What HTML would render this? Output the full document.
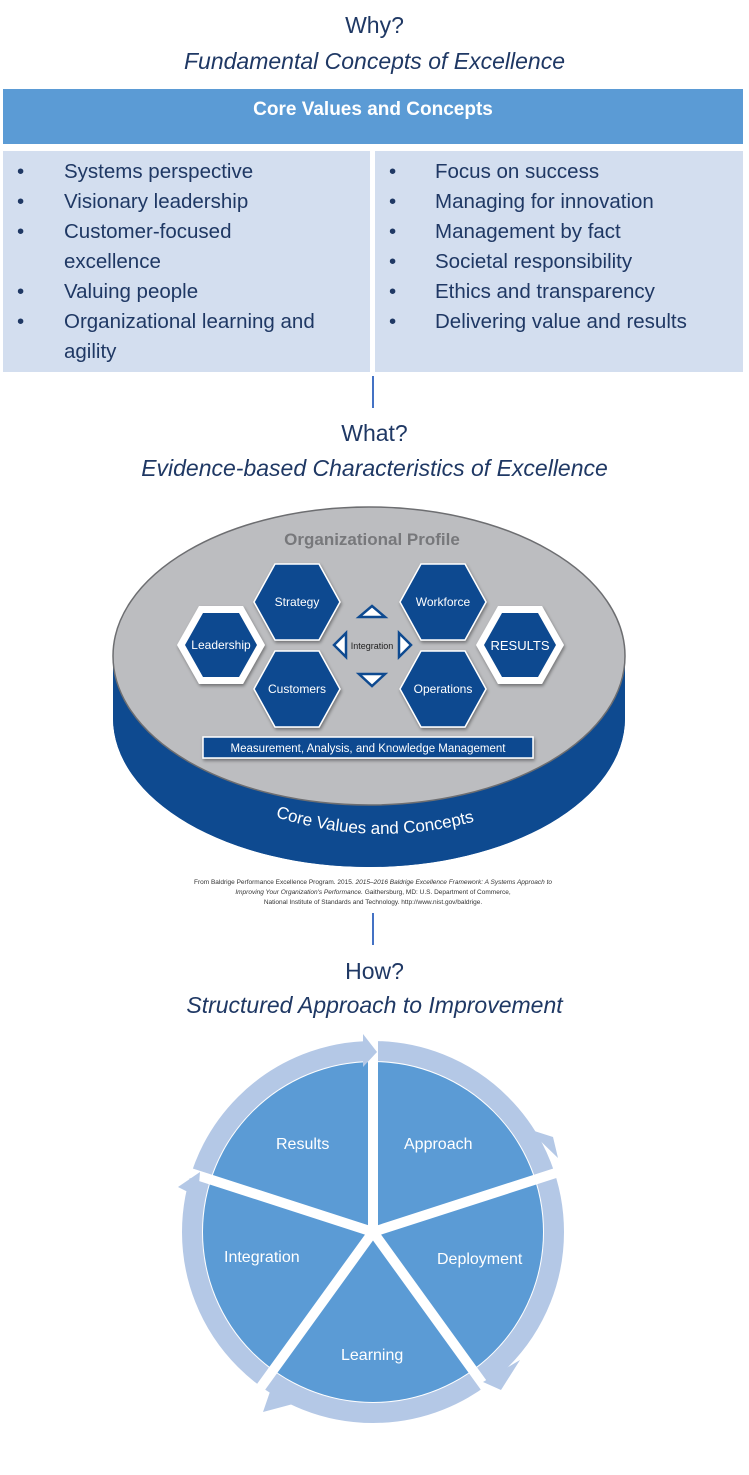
<!DOCTYPE html>
<html><head><meta charset="utf-8"><style>
body{margin:0;width:749px;height:1475px;background:#fff;position:relative;font-family:"Liberation Sans",sans-serif;overflow:hidden}
.t{position:absolute;left:0;width:749px;text-align:center;color:#1F3864;font-size:23px}
.i{font-style:italic}
.hdr{position:absolute;left:3px;top:89px;width:740px;height:55px;background:#5B9BD5;color:#fff;font-weight:bold;font-size:19px;text-align:center;line-height:42px}
.col{position:absolute;top:151px;height:221px;background:#D3DEEF;color:#1F3864;font-size:20.5px;line-height:30px}
.col div{position:relative;padding-left:0}
.b{position:absolute}
.ln{position:absolute;left:372px;width:2px;background:#4472C4}
</style></head><body>
<div class="t" style="top:12px">Why?</div>
<div class="t i" style="top:48px">Fundamental Concepts of Excellence</div>
<div class="hdr">Core Values and Concepts</div>
<div class="col" style="left:3px;width:367px">
 <div style="position:absolute;left:14px;top:6px;line-height:30px">•<br>•<br>•<br><br>•<br>•</div>
 <div style="position:absolute;left:61px;top:6px;width:300px">Systems perspective<br>Visionary leadership<br>Customer-focused<br>excellence<br>Valuing people<br>Organizational learning and<br>agility</div>
</div>
<div class="col" style="left:375px;width:368px">
 <div style="position:absolute;left:14px;top:6px">•<br>•<br>•<br>•<br>•<br>•</div>
 <div style="position:absolute;left:60px;top:6px;width:305px">Focus on success<br>Managing for innovation<br>Management by fact<br>Societal responsibility<br>Ethics and transparency<br>Delivering value and results</div>
</div>
<div class="ln" style="top:376px;height:32px"></div>
<div class="t" style="top:420px">What?</div>
<div class="t i" style="top:455px">Evidence-based Characteristics of Excellence</div>

<svg style="position:absolute;left:0;top:0" width="749" height="1475">
 <defs><filter id="sh"><feDropShadow dx="1" dy="2" stdDeviation="1.5" flood-opacity="0.4"/></filter></defs>
 <!-- cylinder -->
 <path d="M113,656 L113,718 A256,149 0 0 0 625,718 L625,656 Z" fill="#0E4A90"/>
 <ellipse cx="369" cy="718" rx="256" ry="149" fill="#0E4A90"/>
 <ellipse cx="369" cy="656" rx="256" ry="149" fill="#BCBDC0" stroke="#6d6e71" stroke-width="1.5"/>
 <text x="372" y="545" text-anchor="middle" font-size="17" font-weight="bold" fill="#77787b">Organizational Profile</text>
 <g filter="url(#sh)">
  <polygon points="177,645 199,606 243,606 265,645 243,684 199,684" fill="#fff"/>
  <polygon points="185,645 203,613 239,613 257,645 239,677 203,677" fill="#0E4A90"/>
  <polygon points="476,645 498,606 542,606 564,645 542,684 498,684" fill="#fff"/>
  <polygon points="484,645 502,613 538,613 556,645 538,677 502,677" fill="#0E4A90"/>
  <polygon points="254,602 275,564 319,564 340,602 319,640 275,640" fill="#0E4A90" stroke="#fff" stroke-width="1.5"/>
  <polygon points="254,689 275,651 319,651 340,689 319,727 275,727" fill="#0E4A90" stroke="#fff" stroke-width="1.5"/>
  <polygon points="400,602 421,564 465,564 486,602 465,640 421,640" fill="#0E4A90" stroke="#fff" stroke-width="1.5"/>
  <polygon points="400,689 421,651 465,651 486,689 465,727 421,727" fill="#0E4A90" stroke="#fff" stroke-width="1.5"/>
  <rect x="203" y="737" width="330" height="21" fill="#0E4A90" stroke="#fff" stroke-width="1.5"/>
 </g>
 <g fill="#fff" font-size="12" text-anchor="middle">
  <text x="221" y="649">Leadership</text>
  <text x="520" y="650" font-size="13">RESULTS</text>
  <text x="297" y="606">Strategy</text>
  <text x="297" y="693">Customers</text>
  <text x="443" y="606">Workforce</text>
  <text x="443" y="693">Operations</text>
  <text x="368" y="752" font-size="11.5">Measurement, Analysis, and Knowledge Management</text>
 </g>
 <text x="372" y="649" text-anchor="middle" font-size="9" fill="#222">Integration</text>
 <g fill="#fff" stroke="#0E4A90" stroke-width="2.5">
  <polygon points="372,606 385,617 359,617"/>
  <polygon points="359,674 385,674 372,686"/>
  <polygon points="346,633 346,657 334,645"/>
  <polygon points="399,633 399,657 411,645"/>
 </g>
 <path id="arc" d="M270,815 Q372,850 480,820" fill="none"/>
 <text font-size="17" fill="#fff"><textPath href="#arc" startOffset="50%" text-anchor="middle">Core Values and Concepts</textPath></text>
 <g font-size="6.5" fill="#333" text-anchor="middle">
  <text x="373" y="884">From Baldrige Performance Excellence Program. 2015. <tspan font-style="italic">2015–2016 Baldrige Excellence Framework: A Systems Approach to</tspan></text>
  <text x="373" y="894"><tspan font-style="italic">Improving Your Organization's Performance.</tspan> Gaithersburg, MD: U.S. Department of Commerce,</text>
  <text x="373" y="904">National Institute of Standards and Technology. http://www.nist.gov/baldrige.</text>
 </g>

 <!-- cycle -->
 <g transform="translate(373,1232)">
  <circle r="181" fill="none" stroke="#B4C8E6" stroke-width="20"/>
  <circle r="170" fill="#5B9BD5"/>
  <g stroke="#fff" stroke-width="10">
   <line x1="0" y1="0" x2="0" y2="-205"/>
   <line x1="0" y1="0" x2="195" y2="-63"/>
   <line x1="0" y1="0" x2="120" y2="166"/>
   <line x1="0" y1="0" x2="-120" y2="166"/>
   <line x1="0" y1="0" x2="-195" y2="-63"/>
  </g>
  <g fill="#B4C8E6">
   <polygon points="-10,-198 4,-180 -10,-165"/>
   <polygon points="155,-103 185,-74 180,-95"/>
   <polygon points="147,128 110,150 128,158"/>
   <polygon points="-80,172 -100,151 -110,180"/>
   <polygon points="-195,-45 -173,-60 -175,-35"/>
  </g>
 </g>
</svg>
<div class="ln" style="top:913px;height:32px"></div>
<div class="t" style="top:958px">How?</div>
<div class="t i" style="top:992px">Structured Approach to Improvement</div>
<div style="position:absolute;color:#fff;font-size:16px;left:276px;top:1136px">Results</div>
<div style="position:absolute;color:#fff;font-size:16px;left:404px;top:1136px">Approach</div>
<div style="position:absolute;color:#fff;font-size:16px;left:224px;top:1249px">Integration</div>
<div style="position:absolute;color:#fff;font-size:16px;left:437px;top:1251px">Deployment</div>
<div style="position:absolute;color:#fff;font-size:16px;left:341px;top:1347px">Learning</div>
</body></html>
